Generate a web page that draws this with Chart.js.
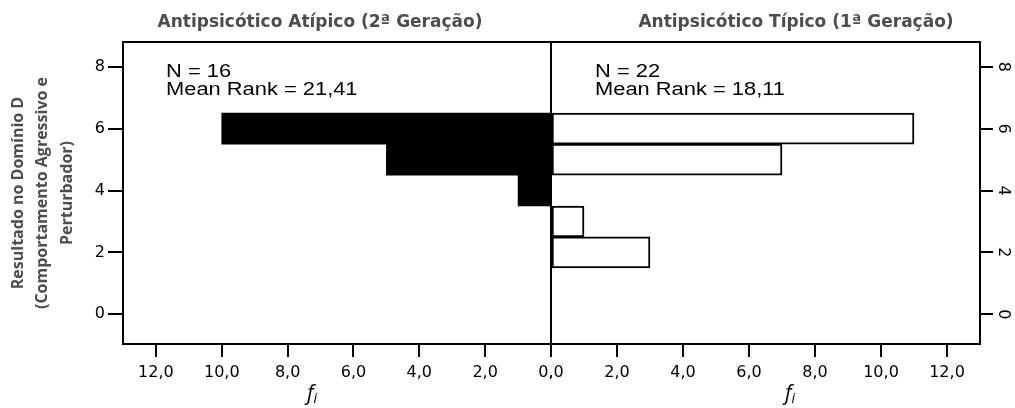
<!DOCTYPE html>
<html>
<head>
<meta charset="utf-8">
<script src="https://cdn.jsdelivr.net/npm/chart.js@4"></script>
<style>
  body { margin: 0; background: #fff; }
  #wrap { position: relative; width: 1015px; height: 408px; overflow: hidden; }
  canvas { position: absolute; top: 0; }
  #left { left: 0; }
  #right { left: 550px; }
  .title { position: absolute; top: 11px; font: bold 17px "DejaVu Sans"; line-height: 20px; color: #4d4d4d; white-space: nowrap; transform: translateX(-50%); }
  .note { position: absolute; top: 63px; font: 17.5px "Liberation Sans"; line-height: 17.5px; color: #000; white-space: nowrap; transform-origin: left top; transform: scaleX(1.25); }
  .fi { position: absolute; top: 382px; font: italic 21px "Open Sans"; line-height: 21px; color: #000; }
  .fi sub { font-size: 14px; vertical-align: -3px; }
</style>
</head>
<body>
<div id="wrap">
  <canvas id="left" width="552" height="408"></canvas>
  <canvas id="right" width="465" height="408"></canvas>
  <div class="title" style="left:320px">Antipsicótico Atípico (2ª Geração)</div>
  <div class="title" style="left:796px">Antipsicótico Típico (1ª Geração)</div>
  <div class="note" style="left:166px">N = 16<br>Mean Rank = 21,41</div>
  <div class="note" style="left:595px">N = 22<br>Mean Rank = 18,11</div>
  <div class="fi" style="left:307px">f<sub>i</sub></div>
  <div class="fi" style="left:785px">f<sub>i</sub></div>
</div>
<script>
// scores (Domínio D) and frequencies per group
const scores = [6, 5, 4, 3, 2];
const freqAtipico = [10, 5, 1, 0, 0];
const freqTipico = [11, 7, 0, 1, 3];
const yTitle = ['Resultado no Domínio D', '(Comportamento Agressivo e', 'Perturbador)'];

const fmt = v => v.toFixed(1).replace('.', ',');
const tickFont = { family: 'DejaVu Sans', size: 16 };

// box around the plot area
const frame = {
  id: 'frame',
  afterDraw(chart) {
    const { ctx, chartArea: a } = chart;
    ctx.save();
    ctx.strokeStyle = '#000';
    ctx.lineWidth = 2;
    ctx.strokeRect(a.left, a.top, a.right - a.left, a.bottom - a.top);
    ctx.restore();
  }
};

function xScale(reverse) {
  return {
    type: 'linear',
    reverse: reverse,
    min: 0,
    max: 13,
    ticks: { stepSize: 2, includeBounds: false, maxRotation: 0, autoSkip: false, color: '#000', font: tickFont, padding: 6, callback: v => fmt(v) },
    grid: { drawOnChartArea: false, tickLength: 13, color: '#000', lineWidth: 2 },
    border: { display: false },
    afterFit: s => { s.height = 64; s.paddingLeft = 0; s.paddingRight = 0; }
  };
}

function yScale(side) {
  const y = {
    type: 'linear',
    position: side,
    offset: false,
    min: -0.96,
    max: 8.8,
    ticks: { stepSize: 2, includeBounds: false, color: '#000', font: tickFont, padding: 3 },
    grid: { offset: false, drawOnChartArea: false, tickLength: 15, color: '#000', lineWidth: 2 },
    border: { display: false },
    afterFit: s => { s.width = side === 'left' ? 123 : 35; s.paddingTop = 0; s.paddingBottom = 0; }
  };
  if (side === 'right') {
    y.ticks.padding = 5;
    y.ticks.minRotation = -90;
    y.ticks.maxRotation = -90;
    y.ticks.crossAlign = 'center';
    y.grid.tickLength = 13;
  }
  return y;
}

function points(freq) {
  return scores.map((s, i) => ({ y: s, x: freq[i] }));
}

const leftY = yScale('left');
leftY.title = {
  display: true,
  text: yTitle,
  color: '#4d4d4d',
  font: { family: 'Open Sans', size: 16, weight: 'bold', lineHeight: 1.53 },
  padding: { top: 6, bottom: 0 }
};

new Chart(document.getElementById('left'), {
  type: 'bar',
  data: {
    datasets: [{
      data: points(freqAtipico),
      backgroundColor: '#000',
      borderWidth: 0,
      barPercentage: 1,
      categoryPercentage: 1
    }]
  },
  options: {
    indexAxis: 'y',
    responsive: false,
    animation: false,
    layout: { padding: { top: 42, right: 1, left: 0, bottom: 0 } },
    plugins: { legend: { display: false }, tooltip: { enabled: false } },
    scales: { x: xScale(true), y: leftY }
  },
  plugins: [frame]
});

new Chart(document.getElementById('right'), {
  type: 'bar',
  data: {
    datasets: [{
      data: points(freqTipico),
      backgroundColor: '#fff',
      borderColor: '#000',
      borderWidth: 2,
      borderSkipped: false,
      barPercentage: 1,
      categoryPercentage: 1
    }]
  },
  options: {
    indexAxis: 'y',
    responsive: false,
    animation: false,
    layout: { padding: { top: 42, right: 0, left: 1, bottom: 0 } },
    plugins: { legend: { display: false }, tooltip: { enabled: false } },
    scales: { x: xScale(false), y: yScale('right') }
  },
  plugins: [frame]
});
</script>
</body>
</html>
